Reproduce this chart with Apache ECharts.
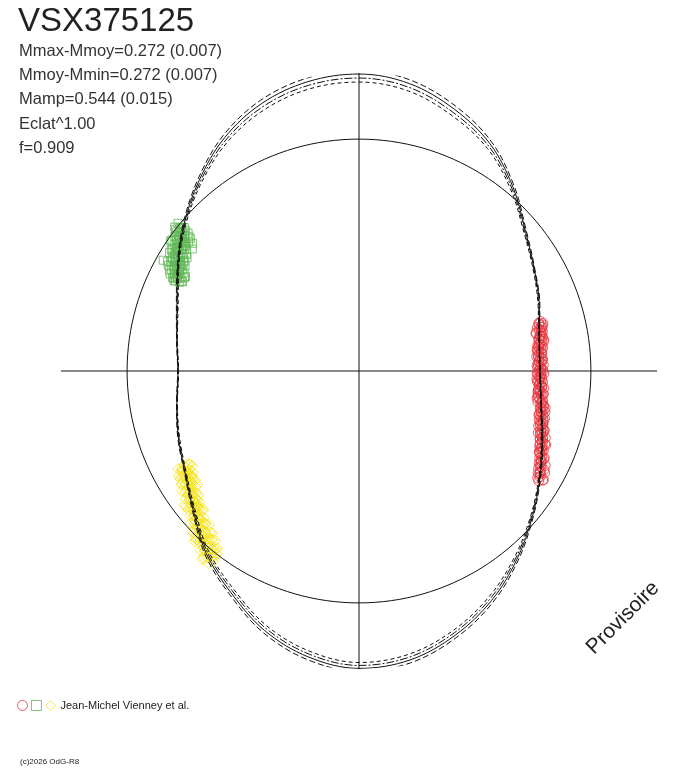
<!DOCTYPE html>
<html><head><meta charset="utf-8">
<script src="https://cdn.jsdelivr.net/npm/echarts@6/dist/echarts.min.js"></script>
<style>html,body{margin:0;padding:0;background:#fff}#c{width:688px;height:768px}</style>
</head><body><div id="c"></div>
<script>
// ---- texts ----
const starName = 'VSX375125';
const statLines = ['Mmax-Mmoy=0.272 (0.007)', 'Mmoy-Mmin=0.272 (0.007)', 'Mamp=0.544 (0.015)', 'Eclat^1.00', 'f=0.909'];
const observer = 'Jean-Michel Vienney et al.';
const credit = '(c)2026 OdG-R8';
const stamp = 'Provisoire';

// ---- radial scale: relative flux (mean = 1) ----
const fluxMax = 1.285;
const meanFlux = 1.0;

// ---- fitted light curve (angle = phase in degrees, radius = relative flux) ----
const ovalAngle = [0,10,20,30,40,50,60,70,80,90,100,110,120,130,140,150,160,170,180,190,200,210,220,230,240,250,260,270,280,290,300,310,320,330,340,350];
const ovalMid   = [0.780,0.789,0.826,0.872,0.935,1.030,1.125,1.194,1.250,1.272,1.259,1.220,1.155,1.069,0.983,0.901,0.834,0.797,0.780,0.797,0.828,0.866,0.931,1.022,1.099,1.185,1.246,1.276,1.259,1.207,1.138,1.056,0.974,0.901,0.840,0.797];
// half-width of the uncertainty bundle
const ovalBand  = [0.002,0.002,0.004,0.004,0.0065,0.011,0.017,0.022,0.024,0.026,0.024,0.022,0.017,0.011,0.0065,0.004,0.004,0.002,0.002,0.002,0.004,0.004,0.0065,0.011,0.015,0.017,0.019,0.019,0.019,0.017,0.015,0.011,0.0065,0.004,0.004,0.002];

// ---- observations [angle deg, relative flux] ----
const redPts = [[15.2,0.812],[14.6,0.803],[14.1,0.815],[13.5,0.806],[12.8,0.798],[12.2,0.809],[11.7,0.801],[11.0,0.794],[10.4,0.803],[9.9,0.789],[9.3,0.797],[8.6,0.786],[8.0,0.795],[7.5,0.782],[6.9,0.791],[6.2,0.779],[5.6,0.788],[5.0,0.776],[4.3,0.785],[3.8,0.792],[3.1,0.777],[2.5,0.786],[1.9,0.774],[1.2,0.783],[0.6,0.789],[0.1,0.776],
[359.4,0.784],[358.8,0.772],[358.1,0.781],[357.5,0.789],[356.9,0.776],[356.2,0.785],[355.6,0.779],[355.0,0.791],[354.3,0.780],[353.7,0.787],[353.0,0.778],[352.4,0.793],[351.8,0.783],[351.1,0.790],
[350.5,0.803],[349.8,0.796],[349.2,0.808],[348.5,0.801],[347.9,0.812],[347.2,0.805],[346.6,0.815],[345.9,0.808],[345.3,0.820],[344.6,0.813],[344.0,0.824],[343.3,0.818],[342.7,0.829],[342.0,0.823],[341.4,0.835],[340.7,0.829],[340.1,0.842],[339.4,0.836],[338.8,0.848],[338.1,0.842],[337.5,0.855],[336.8,0.850],[336.2,0.862],[335.5,0.857],[334.9,0.870],[334.2,0.865],[333.6,0.878],[332.9,0.873],[332.3,0.887],[331.6,0.881],[331.0,0.895],[330.3,0.889],[329.7,0.904],[329.1,0.898],[328.6,0.908],
[14.5,0.819],[13.6,0.791],[12.7,0.805],[11.8,0.782],[10.9,0.804],[10.0,0.787],[9.1,0.805],[8.2,0.779],[7.3,0.799],[6.4,0.774],[5.5,0.790],[4.6,0.769],[3.7,0.792],[2.8,0.776],[1.9,0.795],[1.0,0.771],[0.1,0.793],
[359.2,0.769],[358.3,0.787],[357.4,0.768],[356.5,0.793],[355.6,0.779],[354.7,0.800],[353.8,0.777],[352.9,0.801],[352.0,0.780],[351.1,0.800],[350.2,0.783],[349.3,0.810],[348.4,0.798],[347.5,0.821],[346.6,0.800],[345.7,0.826],[344.8,0.805],[343.9,0.826],[343.0,0.810],[342.1,0.839],[341.2,0.828],[340.3,0.853],[339.4,0.834],[338.5,0.861],[337.6,0.843],[336.7,0.866],[335.8,0.852],[334.9,0.882],[334.0,0.873],[333.1,0.900],[332.2,0.883],[331.3,0.913],[330.4,0.897],[329.5,0.923],
[14.8,0.801],[13.5,0.811],[12.2,0.781],[10.9,0.797],[9.6,0.808],[8.3,0.786],[7.0,0.774],[5.7,0.791],[4.4,0.777],[3.1,0.790],[1.8,0.768],[0.5,0.783],
[359.2,0.797],[357.9,0.779],[356.6,0.771],[355.3,0.791],[354.0,0.780],[352.7,0.798],[351.4,0.777],[350.1,0.800],[348.8,0.818],[347.5,0.804],[346.2,0.799],[344.9,0.823],[343.6,0.815],[342.3,0.837],[341.0,0.818],[339.7,0.844],[338.4,0.866],[337.1,0.855],[335.8,0.854],[334.5,0.882],[333.2,0.878],[331.9,0.904],[330.6,0.896],[329.3,0.921]];
const greenPts = [[140.6,0.975],[141.0,0.962],[141.3,0.985],[141.7,0.968],[142.0,0.952],[142.2,0.975],[142.6,0.961],[142.9,0.944],[143.2,0.970],[143.5,0.955],[143.8,0.940],[144.1,0.962],[144.4,0.948],[144.7,0.931],[145.0,0.957],[145.3,0.942],[145.6,0.927],[145.9,0.951],[146.2,0.935],[146.5,0.920],[146.8,0.944],[147.1,0.928],[147.4,0.913],[147.7,0.937],[148.0,0.921],[148.3,0.906],[148.6,0.929],[148.9,0.915],[149.2,0.900],[149.5,0.922],[149.8,0.908],[150.1,0.894],[150.4,0.916],[150.7,0.902],[151.0,0.888],[151.3,0.909],[151.6,0.895],[151.9,0.882],[152.2,0.901],[152.6,0.889],[153.0,0.878],[153.4,0.893],[153.8,0.882],[150.5,0.970],[143.8,0.891],[142.5,0.905],
[140.8,1.007],[141.1,0.947],[141.4,0.991],[141.7,0.934],[142.0,1.008],[142.3,0.951],[142.6,0.989],[142.9,0.921],[143.2,0.967],[143.5,0.935],[143.8,0.984],[144.1,0.924],[144.4,0.968],[144.7,0.912],[145.0,0.985],[145.3,0.928],[145.6,0.966],[145.9,0.898],[146.2,0.944],[146.5,0.912],[146.8,0.962],[147.1,0.901],[147.4,0.945],[147.7,0.889],[148.0,0.963],[148.3,0.905],[148.6,0.943],[148.9,0.876],[149.2,0.921],[149.5,0.889],[149.8,0.939],[150.1,0.879],[150.4,0.922],[150.7,0.866],[151.0,0.940],[151.3,0.882],[151.6,0.920],[151.9,0.853],[152.2,0.899],[152.5,0.866],[152.8,0.916],[153.1,0.856],[153.4,0.899],[153.7,0.864],[154.0,0.887],
[141.2,0.984],[141.8,0.925],[142.4,0.999],[143.0,0.956],[143.6,0.926],[144.2,0.973],[144.8,0.929],[145.4,0.987],[146.0,0.948],[146.6,0.888],[147.2,0.963],[147.8,0.919],[148.4,0.889],[149.0,0.937],[149.6,0.892],[150.2,0.951],[150.8,0.911],[151.4,0.852],[152.0,0.926],[152.6,0.882],[153.2,0.853]];
const yellowPts = [[208.3,0.860],[208.6,0.845],[208.9,0.872],[209.2,0.855],[209.6,0.866],[210.1,0.848],[210.5,0.877],[211.0,0.862],[211.4,0.884],[211.9,0.868],[212.3,0.853],[212.8,0.880],[213.2,0.892],[213.7,0.873],[214.1,0.887],[214.6,0.899],[215.0,0.878],[215.5,0.893],[215.9,0.907],[216.4,0.889],[216.8,0.902],[217.3,0.915],[217.7,0.897],[218.2,0.911],[218.6,0.925],[219.1,0.905],[219.5,0.919],[220.0,0.934],[220.4,0.913],[220.9,0.929],[221.3,0.944],[221.8,0.924],[222.2,0.940],[222.7,0.957],[223.1,0.935],[223.6,0.952],[224.0,0.970],[224.5,0.948],[224.9,0.966],[225.4,0.985],[225.8,0.960],[226.3,0.978],[226.7,0.997],[227.2,0.972],[227.6,0.990],[228.1,1.010],[228.5,0.983],[229.0,1.003],[229.4,1.022],[229.9,0.994],[230.3,1.014],[230.8,1.030],[231.2,1.005],[231.7,1.022],[232.1,1.012],[226.0,1.010],[228.8,0.965],[230.5,0.985],
[208.5,0.887],[208.9,0.835],[209.3,0.874],[209.7,0.828],[210.1,0.899],[210.5,0.856],[210.9,0.889],[211.3,0.841],[211.7,0.878],[212.1,0.857],[212.5,0.905],[212.9,0.854],[213.3,0.894],[213.7,0.849],[214.1,0.922],[214.5,0.879],[214.9,0.912],[215.3,0.864],[215.7,0.901],[216.1,0.881],[216.5,0.929],[216.9,0.879],[217.3,0.919],[217.7,0.875],[218.1,0.948],[218.5,0.905],[218.9,0.938],[219.3,0.891],[219.7,0.929],[220.1,0.909],[220.5,0.958],[220.9,0.908],[221.3,0.948],[221.7,0.904],[222.1,0.978],[222.5,0.936],[222.9,0.969],[223.3,0.922],[223.7,0.961],[224.1,0.936],[224.5,0.998],[224.9,0.933],[225.3,0.985],[225.7,0.927],[226.1,1.021],[226.5,0.966],[226.9,1.009],[227.3,0.947],[227.7,0.996],[228.1,0.970],[228.5,1.032],[228.9,0.966],[229.3,1.018],[229.7,0.959],[230.1,1.047],[230.5,0.996],[230.9,1.038],[231.3,0.979],[231.7,1.023],[232.1,0.998],[232.5,1.035],
[208.7,0.834],[209.5,0.877],[210.3,0.857],[211.1,0.900],[211.9,0.852],[212.7,0.908],[213.5,0.868],[214.3,0.890],[215.1,0.853],[215.9,0.912],[216.7,0.895],[217.5,0.948],[218.3,0.892],[219.1,0.949],[219.9,0.910],[220.7,0.934],[221.5,0.898],[222.3,0.959],[223.1,0.943],[223.9,0.997],[224.7,0.938],[225.5,1.007],[226.3,0.960],[227.1,0.987],[227.9,0.943],[228.7,1.015],[229.5,0.993],[230.3,1.056],[231.1,0.987],[231.9,1.053]];

// ---- styles ----
const FONT = '"Liberation Sans", Arial, sans-serif';
const RED = '#e8333b', GREEN = '#62b857', YELLOW = '#f4e41c', INK = '#111';

// ---- build series data ----
function closed(arr) { return arr.concat([arr[0]]); }
const angs = closed(ovalAngle).map((a, i) => i === ovalAngle.length ? 360 : a);
function curve(k) {
  const r = closed(ovalMid.map((m, i) => m + k * ovalBand[i]));
  return r.map((v, i) => [v, angs[i]]);
}
const circleData = [];
for (let a = 0; a <= 360; a += 2) circleData.push([meanFlux, a]);
const toPolar = pts => pts.map(p => [p[1], p[0]]);

const curveStyles = [
  {k: 1, type: [6, 3]},
  {k: 1/3, type: 'solid'},
  {k: -1/3, type: [8, 2, 2, 2]},
  {k: -1, type: [4, 3]}
];

const chart = echarts.init(document.getElementById('c'), null, {renderer: 'canvas'});
const hollow = (c, w) => ({color: 'rgba(0,0,0,0)', borderColor: c, borderWidth: w || 1});

chart.setOption({
  animation: false,
  backgroundColor: '#fff',
  polar: {center: [359, 371], radius: 298},
  angleAxis: {
    type: 'value', min: 0, max: 360, interval: 90, startAngle: 0, clockwise: false,
    axisLine: {show: false}, axisTick: {show: false}, axisLabel: {show: false},
    splitLine: {show: true, lineStyle: {color: INK, width: 1}}
  },
  radiusAxis: {
    type: 'value', min: 0, max: fluxMax,
    axisLine: {show: false}, axisTick: {show: false}, axisLabel: {show: false}, splitLine: {show: false}
  },
  legend: {
    left: 12, top: 695, itemWidth: 10, itemHeight: 10, itemGap: 3, selectedMode: false,
    textStyle: {fontSize: 11, color: '#222', fontFamily: FONT},
    formatter: n => (n === observer ? n : ''),
    data: [
      {name: 'R', icon: 'circle', itemStyle: hollow(RED)},
      {name: 'G', icon: 'rect', itemStyle: hollow(GREEN)},
      {name: observer, icon: 'diamond', itemStyle: hollow(YELLOW)}
    ]
  },
  graphic: [
    {type: 'text', left: 18, top: 5, style: {text: starName, font: '33px ' + FONT, fill: '#222'}},
    {type: 'text', left: 19, top: 39, style: {text: statLines.join('\n'), font: '16.5px ' + FONT, fill: '#333', lineHeight: 24.3}},
    {type: 'text', left: 20, top: 758, style: {text: credit, font: '8px ' + FONT, fill: '#222'}},
    {type: 'text', x: 623, y: 618, rotation: Math.PI / 4, style: {text: stamp, font: '21px ' + FONT, fill: '#222', align: 'center', verticalAlign: 'middle'}}
  ],
  series: [
    {name: 'circle', type: 'line', coordinateSystem: 'polar', data: circleData, showSymbol: false, silent: true,
     lineStyle: {color: INK, width: 1}, clip: false},
    {name: 'R', type: 'scatter', coordinateSystem: 'polar', data: toPolar(redPts), symbol: 'circle', symbolSize: 10, itemStyle: hollow(RED)},
    {name: 'G', type: 'scatter', coordinateSystem: 'polar', data: toPolar(greenPts), symbol: 'rect', symbolSize: 8, itemStyle: hollow(GREEN)},
    {name: observer, type: 'scatter', coordinateSystem: 'polar', data: toPolar(yellowPts), symbol: 'diamond', symbolSize: 11, itemStyle: hollow(YELLOW)}
  ].concat(curveStyles.map((c, i) => ({
    name: 'fit' + i, type: 'line', coordinateSystem: 'polar', data: curve(c.k), showSymbol: false, smooth: 0.35, silent: true, clip: false,
    lineStyle: {color: INK, width: 1, type: c.type}
  })))
});
</script>
</body></html>
